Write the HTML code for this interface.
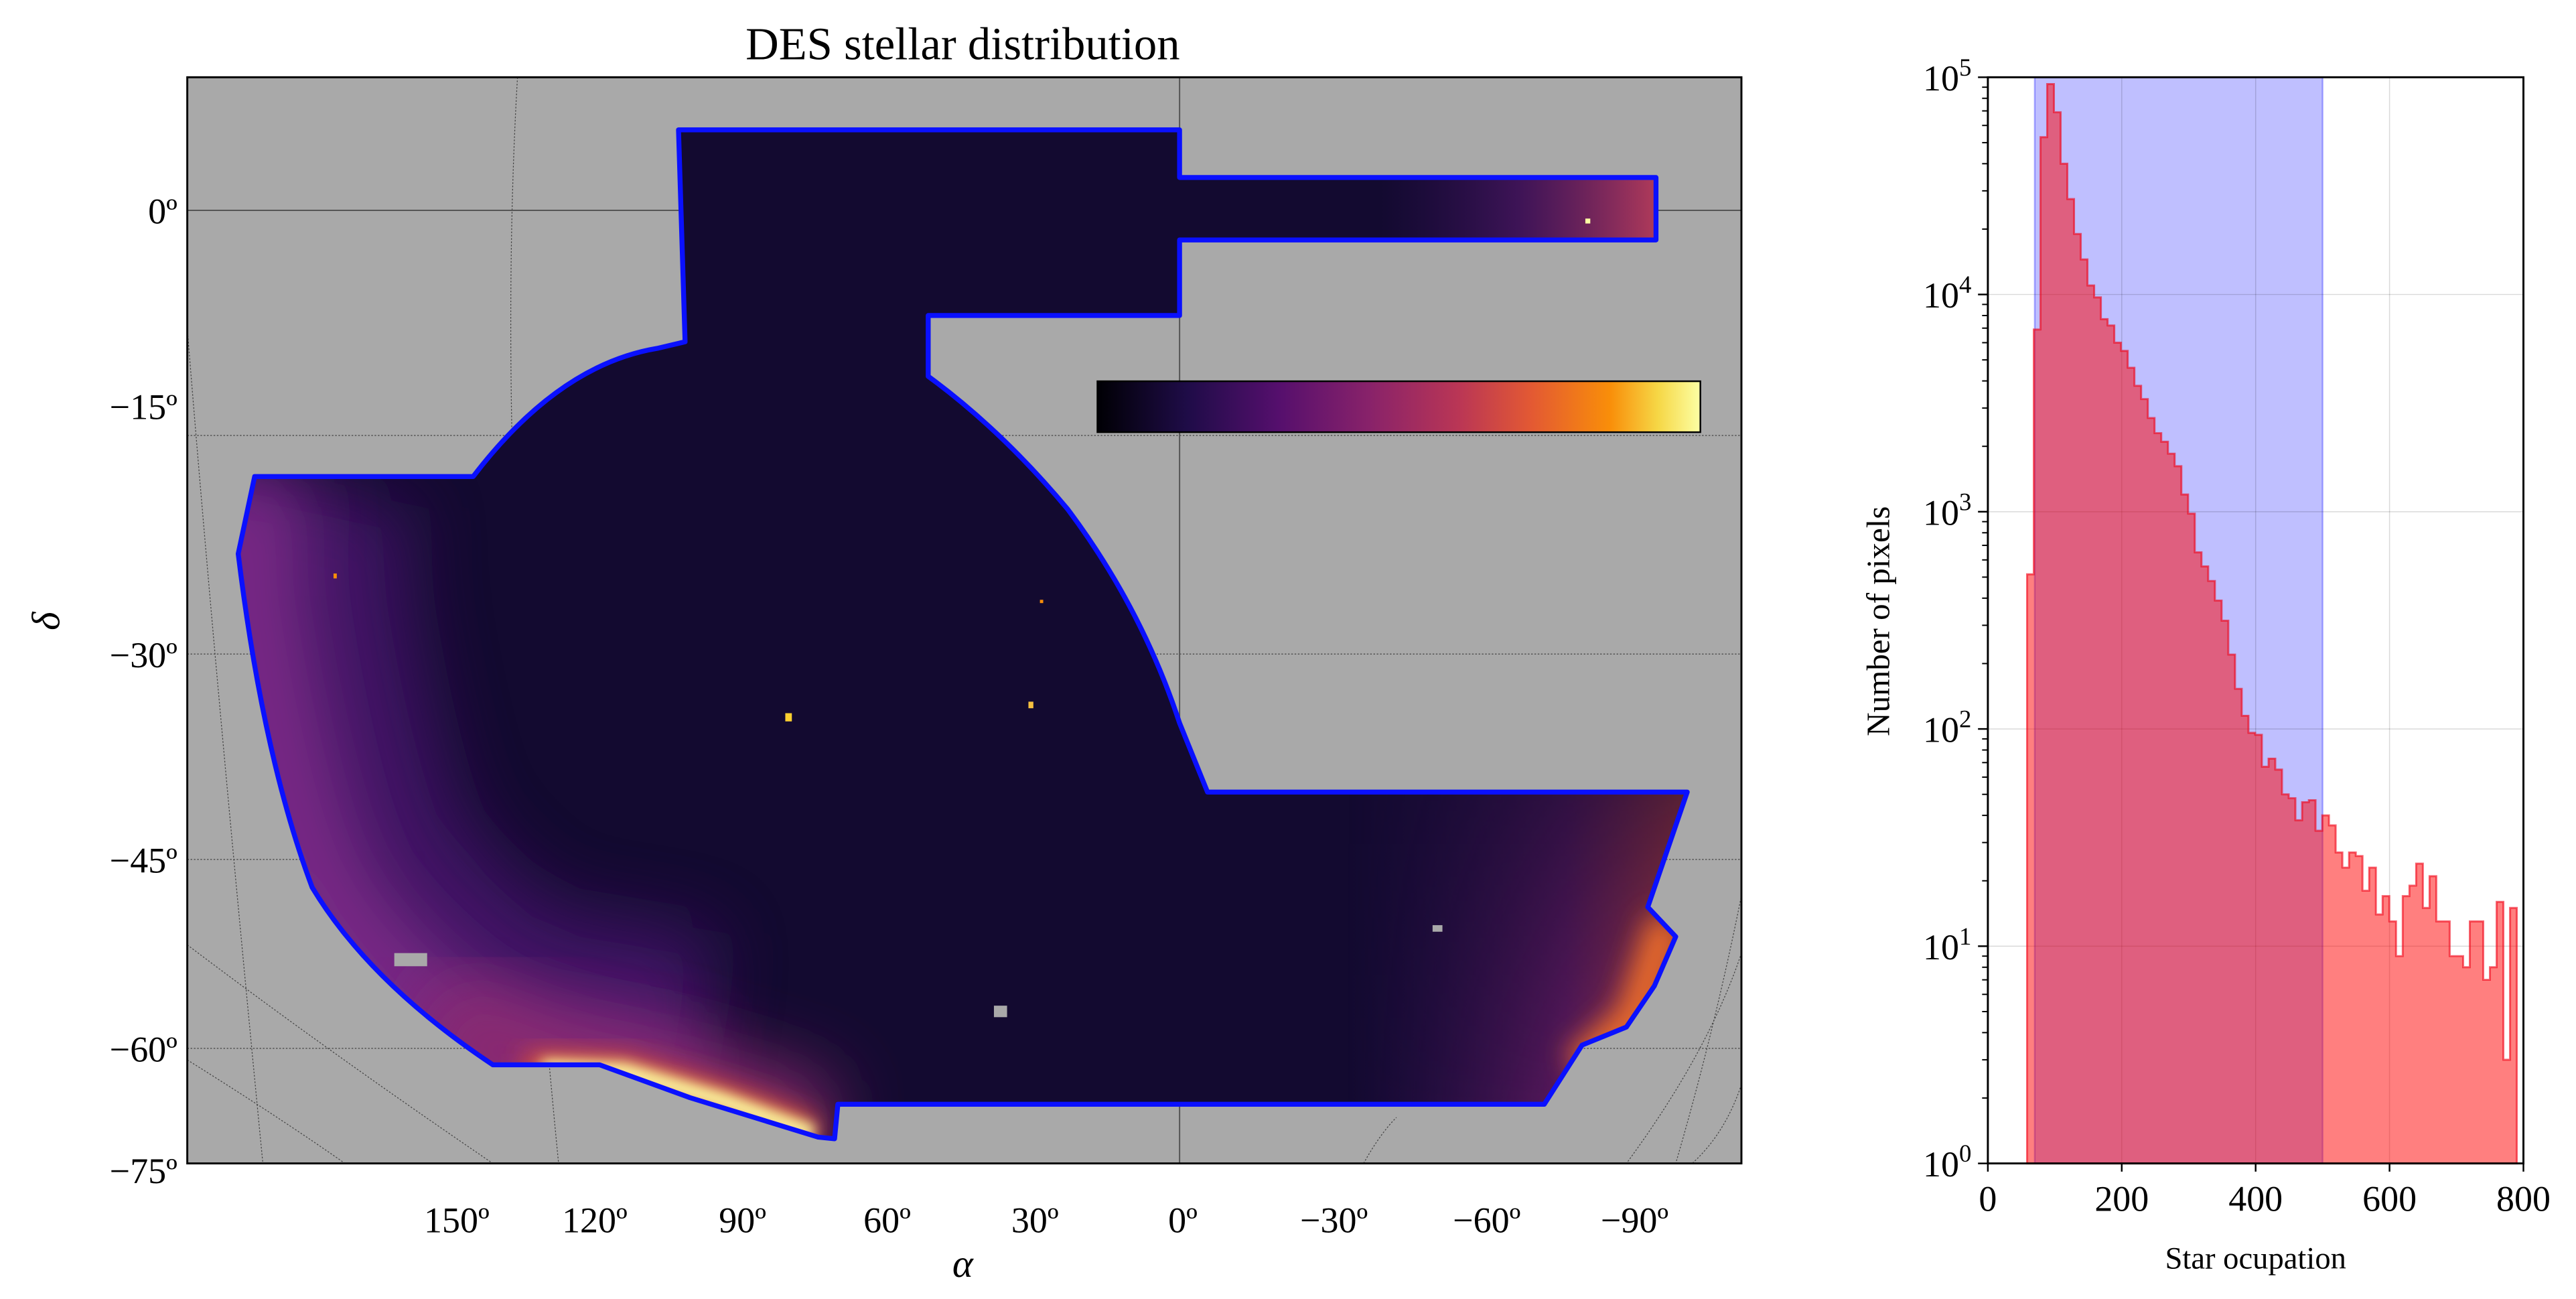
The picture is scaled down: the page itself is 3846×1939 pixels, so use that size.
<!DOCTYPE html>
<html><head><meta charset="utf-8">
<style>
html,body{margin:0;padding:0;background:#fff}
svg{display:block}
text{font-family:"Liberation Serif",serif;fill:#000}
</style></head>
<body>
<svg id="fig" width="3846" height="1939" viewBox="0 0 1568 790.5" xmlns="http://www.w3.org/2000/svg">
<defs>
  <clipPath id="mapclip"><rect x="114" y="47" width="946" height="661"/></clipPath>
  <clipPath id="footclip">
    <path d="M413,79 L718,79 L718,108 L1008,108 L1008,146 L718,146 L718,192 L565,192 L565,229 Q610,262 650,310 Q695,370 718,440 L735,482 L1027,482 L1003,552 L1020,570 L1007,600 L990,625 L963,636 L940,672 L518,672 L510,672 L508,693 L498,692 L420,668 L365,648 L300,648 Q225,598 190,540 Q160,460 145,337 L155,290 L288,290 Q340,222 400,212 L417,208 Z"/>
  </clipPath>
  <filter id="blur20" x="-50%" y="-50%" width="200%" height="200%"><feGaussianBlur stdDeviation="22"/></filter>
  <filter id="blur8" x="-50%" y="-50%" width="200%" height="200%"><feGaussianBlur stdDeviation="8"/></filter>
  <filter id="blur4" x="-50%" y="-50%" width="200%" height="200%"><feGaussianBlur stdDeviation="4"/></filter>
  <linearGradient id="inferno" x1="0" x2="1" y1="0" y2="0">
    <stop offset="0" stop-color="#000004"/><stop offset="0.15" stop-color="#1f0c48"/>
    <stop offset="0.3" stop-color="#550f6d"/><stop offset="0.45" stop-color="#88226a"/>
    <stop offset="0.6" stop-color="#ba3655"/><stop offset="0.72" stop-color="#e35933"/>
    <stop offset="0.85" stop-color="#f98e09"/><stop offset="0.93" stop-color="#f6d746"/>
    <stop offset="1" stop-color="#fcffa4"/>
  </linearGradient>
  <linearGradient id="rightglow" x1="1025" x2="820" y1="0" y2="0" gradientUnits="userSpaceOnUse">
    <stop offset="0" stop-color="#c8443e" stop-opacity="0.95"/><stop offset="0.35" stop-color="#7a2070" stop-opacity="0.7"/><stop offset="1" stop-color="#3a1060" stop-opacity="0"/>
  </linearGradient>
  <linearGradient id="topglow" x1="1008" x2="840" y1="0" y2="0" gradientUnits="userSpaceOnUse">
    <stop offset="0" stop-color="#b03a5a"/><stop offset="0.5" stop-color="#5a1a70" stop-opacity="0.6"/><stop offset="1" stop-color="#3a1060" stop-opacity="0"/>
  </linearGradient>
  <linearGradient id="rightfade" x1="0" x2="0" y1="482" y2="672" gradientUnits="userSpaceOnUse">
    <stop offset="0" stop-color="#fff" stop-opacity="0.4"/><stop offset="1" stop-color="#fff" stop-opacity="1"/>
  </linearGradient>
  <mask id="rmask"><rect x="600" y="470" width="450" height="220" fill="url(#rightfade)"/></mask>
</defs>

<g>
  <text x="586" y="36" font-size="28" text-anchor="middle">DES stellar distribution</text>
  <rect x="114" y="47" width="946" height="661" fill="#a9a9a9"/>
  <g clip-path="url(#mapclip)" fill="none" stroke="#444" stroke-width="0.5" stroke-dasharray="1,1">
    <line x1="114" y1="265" x2="1060" y2="265"/><line x1="114" y1="398" x2="1060" y2="398"/>
    <line x1="114" y1="523" x2="1060" y2="523"/><line x1="114" y1="638" x2="1060" y2="638"/>
    <path d="M315,47 Q300,300 340,708"/><path d="M1100,47 Q1110,400 1020,708"/>
    <path d="M114,200 Q130,400 160,708"/><path d="M114,575 Q200,640 300,708"/>
    <path d="M114,645 Q170,680 210,708"/><path d="M1060,580 Q1040,640 990,708"/>
    <path d="M1060,660 Q1050,690 1030,708"/><path d="M830,708 Q840,690 850,680"/>
  </g>
  <line x1="114" y1="128" x2="1060" y2="128" stroke="#555" stroke-width="0.8"/>
  <line x1="718" y1="47" x2="718" y2="708" stroke="#555" stroke-width="0.8"/>
  <g clip-path="url(#footclip)">
    <rect x="114" y="47" width="946" height="661" fill="#130a30"/>
    <path d="M155,290 L145,337 Q160,460 190,540 Q225,598 300,648 L420,668" fill="none" stroke="#4a1470" stroke-width="200" filter="url(#blur20)" opacity="0.8"/>
    <path d="M155,290 L145,337 Q160,460 190,540 Q225,598 300,648 L420,668" fill="none" stroke="#7a2a86" stroke-width="70" filter="url(#blur20)"/>
    <path d="M260,620 Q340,660 400,665 L500,695" fill="none" stroke="#8a2a70" stroke-width="70" filter="url(#blur20)"/>
    <path d="M320,652 L380,654 L440,672 L495,692" fill="none" stroke="#e25a30" stroke-width="22" filter="url(#blur8)"/>
    <path d="M330,650 L380,652 L440,670 L495,690" fill="none" stroke="#fcffa4" stroke-width="10" filter="url(#blur4)"/>
    <rect x="780" y="100" width="230" height="50" fill="url(#topglow)"/>
    <rect x="700" y="470" width="340" height="220" fill="url(#rightglow)" mask="url(#rmask)"/>
    <path d="M1015,560 L995,620 L960,650" fill="none" stroke="#e86a2a" stroke-width="22" filter="url(#blur8)"/>
  </g>
  <path d="M413,79 L718,79 L718,108 L1008,108 L1008,146 L718,146 L718,192 L565,192 L565,229 Q610,262 650,310 Q695,370 718,440 L735,482 L1027,482 L1003,552 L1020,570 L1007,600 L990,625 L963,636 L940,672 L518,672 L510,672 L508,693 L498,692 L420,668 L365,648 L300,648 Q225,598 190,540 Q160,460 145,337 L155,290 L288,290 Q340,222 400,212 L417,208 Z" fill="none" stroke="#0a10ff" stroke-width="3" stroke-linejoin="round"/>
  <rect x="478" y="434" width="4" height="5" fill="#fcd030"/><rect x="626" y="427" width="3" height="4" fill="#f6c040"/>
  <rect x="633" y="365" width="2" height="2" fill="#f98e09"/><rect x="203" y="349" width="2" height="3" fill="#f98e09"/>
  <rect x="965" y="133" width="3" height="3" fill="#fcffa4"/>
  <rect x="605" y="612" width="8" height="7" fill="#a9a9a9"/><rect x="872" y="563" width="6" height="4" fill="#a9a9a9"/>
  <rect x="240" y="580" width="20" height="8" fill="#a9a9a9"/>
  <rect x="668" y="232" width="367" height="31" fill="url(#inferno)" stroke="#000" stroke-width="1"/>
  <rect x="114" y="47" width="946" height="661" fill="none" stroke="#000" stroke-width="1.2"/>
  <g font-size="22" text-anchor="end">
    <text x="108" y="136">0º</text><text x="108" y="255">−15º</text><text x="108" y="406">−30º</text>
    <text x="108" y="531">−45º</text><text x="108" y="646">−60º</text><text x="108" y="720">−75º</text>
  </g>
  <g font-size="22" text-anchor="middle">
    <text x="278" y="750">150º</text><text x="362" y="750">120º</text><text x="452" y="750">90º</text>
    <text x="540" y="750">60º</text><text x="630" y="750">30º</text><text x="720" y="750">0º</text>
    <text x="812" y="750">−30º</text><text x="905" y="750">−60º</text><text x="995" y="750">−90º</text>
  </g>
  <text x="586" y="777" font-size="24" font-style="italic" text-anchor="middle">α</text>
  <text x="36" y="378" font-size="24" font-style="italic" text-anchor="middle" transform="rotate(-90 36 378)">δ</text>
</g>

<g id="hist"></g>

<script>
const binStart = 58.6;
const binWidth = 10.02;
const counts = [515,6900,53000,93000,69000,40000,27500,19000,14500,11000,9700,7700,7200,6000,5500,4600,3800,3300,2700,2300,2100,1850,1620,1200,980,650,560,480,390,315,220,153,115,96,94,67,73,65,50,48,38,46,47,34,40,36,27,23,27,26,18,23,14,17,13,9,17,19,24,15,21,13,13,9,9,8,13,13,7,8,16,3,15];
const spanRange = [70, 500];
const xTicks = [0,200,400,600,800];
const yExps = [0,1,2,3,4,5];

const NS = "http://www.w3.org/2000/svg";
const L=1210, R=1536, T=47, B=708;
const xs = v => L + (v/800)*(R-L);
const ys = v => B - (Math.log10(v)/5)*(B-T);
const g = document.getElementById('hist');
function mk(tag, attrs, parent){const e=document.createElementNS(NS,tag);for(const k in attrs)e.setAttribute(k,attrs[k]);(parent||g).appendChild(e);return e;}

// span (drawn under histogram)
const sp = mk('rect',{x:xs(spanRange[0]),y:T,width:xs(spanRange[1])-xs(spanRange[0]),height:B-T,fill:'rgba(0,0,255,0.25)',stroke:'rgba(0,0,255,0.3)','stroke-width':1});



xTicks.forEach(t=>{ if(t>0&&t<800){const l=mk('line',{x1:xs(t),x2:xs(t),y1:T,y2:B,stroke:'rgba(0,0,0,0.15)','stroke-width':0.6});

}});
yExps.forEach(e=>{ if(e>0&&e<5){const l=mk('line',{x1:L,x2:R,y1:ys(Math.pow(10,e)),y2:ys(Math.pow(10,e)),stroke:'rgba(0,0,0,0.15)','stroke-width':0.6});

}});

let d = 'M'+xs(binStart)+','+B;
counts.forEach((c,i)=>{const x0=xs(binStart+i*binWidth),x1=xs(binStart+(i+1)*binWidth),y=ys(c);d+=' L'+x0+','+y+' L'+x1+','+y;});
d += ' L'+xs(binStart+counts.length*binWidth)+','+B+' Z';
const hp = mk('path',{d:d,fill:'rgba(255,0,0,0.5)',stroke:'rgba(240,0,20,0.6)','stroke-width':1.2});



const fr = mk('rect',{x:L,y:T,width:R-L,height:B-T,fill:'none',stroke:'#000','stroke-width':1.2});



xTicks.forEach(t=>{
  mk('line',{x1:xs(t),x2:xs(t),y1:B,y2:B+5,stroke:'#000','stroke-width':1});
  const tx = mk('text',{x:xs(t),y:B+29,'font-size':22,'text-anchor':'middle'});
  tx.textContent = t;
  
  
});
yExps.forEach(e=>{
  const y = ys(Math.pow(10,e));
  mk('line',{x1:L-6,x2:L,y1:y,y2:y,stroke:'#000','stroke-width':1});
  const tx = mk('text',{x:L-10,y:y+8,'font-size':22,'text-anchor':'end'});
  
  
  const a = document.createElementNS(NS,'tspan'); a.textContent='10'; tx.appendChild(a);
  const b = document.createElementNS(NS,'tspan'); b.setAttribute('font-size','15'); b.setAttribute('dy','-9'); b.textContent=e; tx.appendChild(b);
  if(e<5){for(let m=2;m<10;m++){const ym=ys(m*Math.pow(10,e));mk('line',{x1:L-3.5,x2:L,y1:ym,y2:ym,stroke:'#000','stroke-width':0.8});}}
});
const xt = mk('text',{x:(L+R)/2,y:772,'font-size':19,'text-anchor':'middle'});
xt.textContent='Star ocupation';


const yt = mk('text',{x:1150,y:378,'font-size':20,'text-anchor':'middle',transform:'rotate(-90 1150 378)'});
yt.textContent='Number of pixels';


</script>
</svg>
</body></html>
